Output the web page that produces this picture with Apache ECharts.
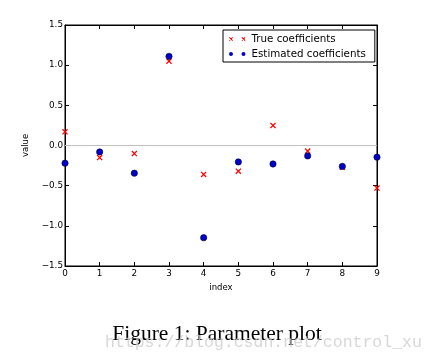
<!DOCTYPE html>
<html><head><meta charset="utf-8">
<script src="https://cdn.jsdelivr.net/npm/echarts@6/dist/echarts.min.js"></script>
<style>html,body{margin:0;padding:0;background:#fff}#c{width:434px;height:364px}</style>
</head><body><div id="c"></div>
<script>
const indices = [0,1,2,3,4,5,6,7,8,9];
const trueCoefficients = [0.17,-0.15,-0.10,1.05,-0.36,-0.32,0.25,-0.07,-0.27,-0.53];
const estimatedCoefficients = [-0.22,-0.08,-0.345,1.11,-1.148,-0.205,-0.23,-0.13,-0.26,-0.145];
const seriesNames = ['True coefficients','Estimated coefficients'];
const xLabel = 'index', yLabel = 'value';
const caption = 'Figure 1: Parameter plot';
const watermark = 'https://blog.csdn.net/control_xu';

function crossPath(cx, cy, r, w) {
  const p = (a)=>a.map(v=>v[0].toFixed(2)+','+v[1].toFixed(2));
  const d1 = p([[cx-r,cy-r+w],[cx-r+w,cy-r],[cx+r,cy+r-w],[cx+r-w,cy+r]]);
  const d2 = p([[cx+r-w,cy-r],[cx+r,cy-r+w],[cx-r+w,cy+r],[cx-r,cy+r-w]]);
  return 'M'+d1.join(' L')+' Z M'+d2.join(' L')+' Z';
}
function circlePath(cx, cy, r) {
  return `M${cx-r},${cy} A${r},${r} 0 1 0 ${cx+r},${cy} A${r},${r} 0 1 0 ${cx-r},${cy} Z`;
}
const crossSym = 'path://' + crossPath(5,5,5,1.5);
const legendCross = 'path://' + crossPath(2,2,2,0.7) + ' ' + crossPath(14.5,2,2,0.7);
const legendCircle = 'path://' + circlePath(2,2,2) + ' ' + circlePath(14.5,2,2);

const fmt = v => (v < 0 ? '\u2212' : '') + Math.abs(v).toFixed(1);
const font = 'DejaVu Sans';
const chart = echarts.init(document.getElementById('c'), null, {renderer:'canvas'});
chart.setOption({
  animation: false,
  backgroundColor: '#fff',
  grid: {left:65, right:57, top:25, bottom:98, show:true, borderColor:'#000', borderWidth:1},
  legend: {
    orient:'vertical', left:223, top:30, width:154,
    backgroundColor:'#fff', borderColor:'#000', borderWidth:1,
    padding:[4,9,3,6], itemGap:5, itemWidth:16.5, itemHeight:4,
    textStyle:{fontFamily:font, fontSize:10.3, color:'#000', padding:[0,0,0,1]},
    data:[{name:seriesNames[0], icon:legendCross},{name:seriesNames[1], icon:legendCircle, itemStyle:{borderWidth:0}}]
  },
  xAxis: [{
    type:'value', min:0, max:9, interval:1, position:'bottom',
    name:xLabel, nameLocation:'middle', nameGap:16,
    nameTextStyle:{fontFamily:font, fontSize:8.5, color:'#000'},
    axisLine:{onZero:false, lineStyle:{color:'#000'}}, splitLine:{show:false},
    axisTick:{inside:true, length:4, lineStyle:{color:'#000'}},
    axisLabel:{fontFamily:font, fontSize:8.8, color:'#000', margin:3}
  },{
    type:'value', min:0, max:9, interval:1, position:'top',
    axisLine:{onZero:false, lineStyle:{color:'#000'}}, splitLine:{show:false},
    axisTick:{inside:true, length:4, lineStyle:{color:'#000'}},
    axisLabel:{show:false}
  }],
  yAxis: [{
    type:'value', min:-1.5, max:1.5, interval:0.5, position:'left',
    name:yLabel, nameLocation:'middle', nameGap:20, nameRotate:90,
    nameTextStyle:{fontFamily:font, fontSize:8.5, color:'#000'},
    axisLine:{show:true, onZero:false, lineStyle:{color:'#000'}}, splitLine:{show:false},
    axisTick:{show:true, inside:true, length:4, lineStyle:{color:'#000'}},
    axisLabel:{fontFamily:font, fontSize:8.8, color:'#000', margin:2, formatter:fmt}
  },{
    type:'value', min:-1.5, max:1.5, interval:0.5, position:'right',
    axisLine:{show:true, onZero:false, lineStyle:{color:'#000'}}, splitLine:{show:false},
    axisTick:{show:true, inside:true, length:4, lineStyle:{color:'#000'}},
    axisLabel:{show:false}
  }],
  series: [{
    name:seriesNames[0], type:'scatter', symbol:crossSym, symbolSize:6,
    itemStyle:{color:'#ff0000', opacity:1}, z:3,
    data: indices.map((x,i)=>[x,trueCoefficients[i]]),
    markLine:{silent:true, symbol:'none', label:{show:false},
      lineStyle:{color:'#c0c0c0', width:1, type:'solid'}, data:[{yAxis:0}], z:1}
  },{
    name:seriesNames[1], type:'scatter', symbol:'circle', symbolSize:6.3,
    itemStyle:{color:'#0000c8', borderColor:'#000030', borderWidth:0.6, opacity:1}, z:4,
    data: indices.map((x,i)=>[x,estimatedCoefficients[i]])
  }],
  graphic: [
    {type:'text', left:'center', top:323, style:{text:caption, fontFamily:'Liberation Serif', fontSize:21.5, fill:'#000'}, z:10},
    {type:'text', left:105, top:334, style:{text:watermark, fontFamily:'Liberation Mono', fontSize:16.5, fill:'rgba(205,205,205,0.8)'}, z:11}
  ]
});
</script></body></html>
